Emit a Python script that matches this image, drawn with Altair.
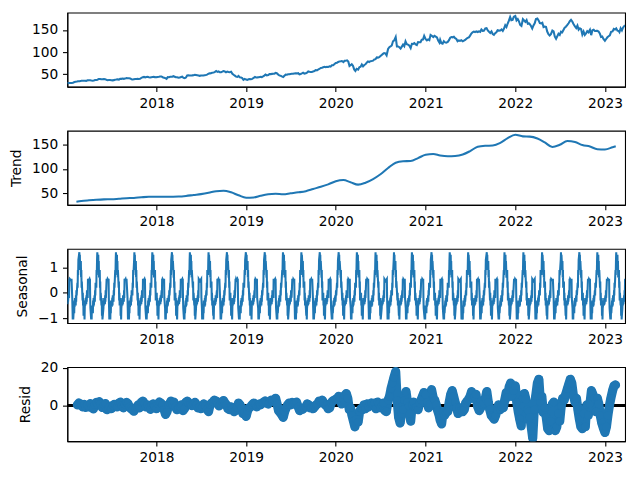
import altair as alt
import pandas as pd

BLUE = "#1f77b4"

# Observed close, read at days 1, 6, 11, 16, 21, 26 of every month Jan 2017 .. Mar 2023
# (one row per month), then the last day
OBS_VALUES = [
    29.0, 29.5, 29.8, 30.0, 30.0, 30.5,
    32.1, 32.7, 33.0, 33.7, 34.0, 34.2,
    35.0, 34.8, 34.8, 35.1, 34.6, 35.8,
    35.9, 35.9, 35.3, 35.0, 35.5, 36.6,
    36.6, 37.2, 38.9, 39.0, 38.3, 38.4,
    38.6, 38.5, 37.0, 36.2, 36.4, 36.4,
    36.0, 35.8, 36.3, 37.3, 37.6, 38.0,
    37.5, 39.2, 39.2, 40.0, 39.2, 39.8,
    41.0, 40.8, 40.6, 40.1, 38.5, 38.0,
    38.5, 38.9, 39.1, 39.4, 39.0, 39.2,
    41.7, 43.1, 43.6, 42.3, 43.4, 43.7,
    42.8, 42.4, 42.9, 43.3, 43.6, 42.7,
    43.1, 43.6, 43.9, 44.5, 44.6, 42.9,
    41.9, 40.8, 39.1, 43.0, 42.8, 44.0,
    43.8, 44.1, 45.2, 44.1, 42.9, 43.0,
    41.7, 42.1, 43.5, 44.2, 41.4, 40.9,
    42.3, 46.7, 47.2, 46.8, 46.9, 47.1,
    47.6, 48.3, 47.9, 47.3, 46.7, 46.0,
    46.8, 46.9, 46.9, 47.6, 47.9, 48.7,
    50.8, 51.7, 51.9, 53.2, 53.6, 54.4,
    57.0, 55.0, 56.3, 54.2, 54.2, 55.5,
    57.0, 56.1, 54.0, 55.7, 54.6, 54.1,
    55.5, 50.9, 48.5, 46.5, 44.2, 43.6,
    46.0, 42.7, 42.4, 41.0, 37.2, 39.1,
    37.5, 36.9, 38.1, 38.9, 38.3, 39.1,
    41.6, 43.5, 42.4, 42.6, 42.9, 43.6,
    43.7, 43.2, 44.7, 46.5, 48.8, 47.0,
    47.8, 50.0, 49.9, 50.5, 51.0, 51.1,
    52.6, 52.0, 49.3, 47.0, 46.4, 44.7,
    43.5, 46.3, 48.7, 48.5, 49.7, 49.5,
    50.4, 50.8, 50.8, 51.6, 51.8, 51.6,
    52.1, 49.3, 50.2, 51.6, 53.2, 51.0,
    51.8, 53.5, 55.9, 55.2, 54.9, 54.7,
    56.1, 56.8, 59.1, 58.6, 60.1, 61.6,
    63.9, 64.3, 65.6, 66.4, 65.5, 66.4,
    66.0, 67.7, 67.0, 69.9, 69.9, 72.5,
    75.1, 75.8, 77.6, 78.8, 79.1, 79.7,
    77.4, 80.4, 80.5, 81.2, 78.3, 68.4,
    70.0, 72.3, 68.9, 60.6, 57.0, 61.9,
    60.2, 65.6, 66.9, 71.7, 67.5, 70.7,
    72.3, 75.9, 78.8, 77.4, 79.2, 79.6,
    80.5, 83.4, 83.9, 87.9, 87.4, 88.4,
    91.0, 93.5, 95.9, 97.7, 97.0, 92.6,
    107.0, 111.1, 112.7, 115.0, 124.4, 126.5,
    134.2, 112.8, 112.8, 111.0, 108.0, 112.3,
    116.8, 113.2, 124.4, 118.0, 116.9, 115.1,
    109.0, 118.7, 118.5, 120.3, 117.3, 116.0,
    122.7, 122.3, 122.4, 127.9, 128.2, 136.7,
    129.4, 126.6, 128.8, 127.1, 139.0, 137.1,
    134.1, 136.8, 135.1, 133.2, 126.0, 121.3,
    127.8, 120.1, 119.0, 124.8, 122.0, 121.2,
    123.0, 127.0, 132.5, 134.2, 133.5, 134.7,
    131.5, 129.7, 124.5, 126.3, 125.4, 126.9,
    124.3, 125.9, 127.4, 130.2, 132.3, 133.4,
    137.3, 142.0, 145.0, 146.4, 145.4, 146.8,
    145.5, 147.1, 145.9, 151.1, 148.2, 148.4,
    153.5, 154.3, 149.0, 146.1, 143.4, 146.9,
    141.0, 139.1, 142.8, 144.8, 149.5, 148.7,
    149.0, 151.3, 148.0, 153.5, 161.0, 156.8,
    164.8, 171.2, 179.5, 172.3, 173.0, 180.3,
    182.0, 172.0, 175.1, 169.8, 161.5, 159.2,
    174.6, 171.7, 168.6, 172.6, 164.3, 164.9,
    163.2, 159.3, 153.5, 160.6, 165.4, 174.7,
    176.0, 171.8, 165.8, 165.1, 166.4, 156.8,
    158.0, 157.3, 146.5, 140.8, 137.6, 140.5,
    148.7, 147.0, 135.0, 130.1, 135.9, 141.7,
    138.9, 146.4, 144.9, 150.2, 155.4, 157.4,
    161.5, 165.4, 170.0, 173.0, 169.5, 163.6,
    158.0, 154.5, 160.0, 150.7, 153.7, 151.8,
    139.5, 146.4, 139.0, 142.4, 147.3, 144.8,
    150.7, 138.4, 149.7, 150.7, 148.0, 148.1,
    148.3, 146.6, 142.2, 134.5, 135.5, 130.0,
    125.5, 129.6, 133.5, 135.9, 137.9, 145.9,
    147.0, 152.6, 151.0, 153.7, 148.5, 147.9,
    145.3, 153.8, 149.0, 155.9, 159.3,
    160.3,
]

# Trend, read at 2017-02-09, the 1st of each month Mar 2017 .. Feb 2023, and 2023-02-14
TREND_VALUES = [
    32.0,
    33.5, 35.0, 36.2, 37.0, 37.2, 38.2, 39.3, 40.0, 41.3, 42.3,
    42.5, 42.3, 42.5, 42.8, 44.0, 46.0, 47.8, 50.5, 54.0, 55.0, 51.5, 45.5,
    40.5, 41.0, 44.5, 47.5, 48.5, 47.5, 49.5, 51.5, 54.0, 58.5, 63.0, 68.0,
    74.5, 77.0, 72.5, 67.5, 71.5, 79.0, 89.0, 102.0, 113.0, 116.0, 116.5, 122.5,
    129.5, 131.0, 128.0, 126.5, 127.0, 130.0, 137.0, 146.0, 148.0, 148.5, 154.0, 164.0,
    171.0, 167.5, 167.0, 163.0, 155.0, 145.5, 150.0, 158.0, 156.0, 149.5, 146.5, 141.0,
    140.5, 145.0,
    147.0,
]

# One 52-trading-day cycle of the seasonal component, from the first trading day on
SEASONAL_CYCLE = [
    -0.20, -0.45, -0.10, -0.35, 0.10, -0.20, 0.55, 0.50, 0.55, 0.50, 0.55, 0.50, 0.55,
    -0.20, -0.60, -1.05, -0.70, -1.05, -0.50, -0.80, -0.30, -0.55, -0.20, -0.50, -0.10,
    -0.35, 0.10, -0.10, 0.40, 0.20, 0.90, 0.70, 1.30,
    1.60, 1.20, 1.50, 0.90, 1.25, 0.60, 0.90, 0.20, 0.45, -0.30, 0.00, -0.50, -0.20,
    -0.90, -0.40, -1.05, -0.60, -0.30, -0.50,
]

# Residuals, five readings per month (days 1, 7, 13, 19, 25), Feb 2017 .. Feb 2023
RESID_ROWS = [
    [None, None, 0.5, 1.5, 1.0], [0.5, -0.5, 0.8, -0.8, 0.2], [-0.5, 1.2, -1.0, -1.6, 0.5],
    [1.8, 0.5, 2.2, 1.0, -0.8], [0.6, 1.2, -2.0, -1.2, -0.5], [-1.5, 0.2, 0.8, 0.5, -0.5],
    [1.5, 2.0, 0.2, -1.0, 0.8], [1.8, 1.2, -0.5, -1.5, -2.0], [-2.8, -1.5, -0.5, 0.5, -1.0],
    [2.0, 2.5, 1.2, -0.5, 0.5], [-0.8, -1.8, 0.5, 1.0, -0.2],
    [-1.5, 1.0, 2.0, 1.5, 0.5], [-2.0, -4.5, -3.0, 0.5, 1.5], [2.5, 1.0, 2.0, -0.5, -2.0],
    [-1.0, -0.5, 0.5, -2.5, -1.5], [2.0, 2.5, 1.0, 0.8, 0.2], [1.0, 1.8, 0.5, -1.0, -0.5],
    [-1.5, -0.5, 1.0, -0.2, -1.8], [-3.0, 0.5, 1.5, 2.0, 3.0], [2.5, 1.0, 0.0, 1.0, 2.0],
    [2.8, 1.5, 0.5, -1.5, -2.0], [-0.5, -1.5, -3.0, -2.5, -1.0], [1.5, 0.5, -1.0, -4.0, -3.5],
    [-5.5, -2.5, -1.0, -0.5, 0.5], [1.5, 0.8, -0.5, 0.5, 1.0], [0.5, 1.5, 2.0, 2.5, 1.5],
    [1.0, 2.0, 3.0, 2.5, 3.2], [4.0, 1.0, -2.5, -3.5, -4.5], [-6.0, -3.0, -1.0, 0.5, 1.5],
    [0.5, 1.8, 1.0, 1.5, 2.0], [-0.5, -2.5, -1.5, -1.8, -1.0], [-0.5, 1.0, 0.5, -1.0, -0.8],
    [-1.5, -0.5, 0.5, 1.0, 2.5], [2.5, 3.0, 1.5, 0.5, 0.0], [-1.5, -1.0, 1.5, 2.5, 3.0],
    [3.5, 4.0, 5.0, 4.0, 1.0], [3.5, 5.5, 6.5, 4.0, -2.0], [-1.0, -5.0, -8.0, -11.0, -7.0],
    [-8.5, -3.0, -1.5, -2.0, 0.5], [-1.5, 1.0, -0.5, 1.0, 1.5], [0.5, 1.5, -1.5, 2.0, 1.0],
    [-1.0, 0.5, 1.5, -2.5, -3.0], [3.0, 5.0, 9.0, 12.0, 15.0], [18.0, 3.0, -6.0, -9.0, -4.0],
    [-2.0, 3.0, 7.5, 2.0, 0.0], [-8.0, 0.5, 2.0, -1.0, -0.5], [-2.0, 1.5, 3.0, 5.0, 7.0],
    [6.0, 2.0, -1.0, 1.0, 8.5], [4.0, 3.0, 0.5, -2.5, -5.0], [-7.5, -9.5, -3.0, -5.0, -3.5],
    [-3.0, 2.0, 6.0, 8.0, 5.0], [2.0, -1.0, -4.0, -1.0, -2.5], [-3.0, -2.0, 1.5, 2.5, 3.5],
    [5.0, 7.5, 4.0, 5.0, 6.0], [-0.5, -2.5, -1.0, 0.5, 1.5], [4.0, 7.5, 2.0, -2.0, -5.0],
    [-6.0, -7.0, -5.0, -2.0, 0.5], [-2.0, -0.5, -1.0, 3.0, 7.0], [4.5, 10.0, 12.0, 5.0, 8.0],
    [10.5, 2.0, -3.0, -7.0, -10.5], [4.0, 6.5, 3.5, -2.0, -3.0], [-6.0, -11.0, -17.0, -2.0, 5.0],
    [12.0, 14.0, 2.0, 5.0, -3.5], [-1.0, -6.0, -12.0, -13.0, -8.0], [1.0, 2.0, -13.0, -11.0, -4.0],
    [-8.0, 0.0, 4.0, 3.0, 6.0], [9.0, 11.5, 14.0, 12.0, 6.0], [2.0, 4.0, -2.0, -7.0, -11.0],
    [-12.0, -4.0, -11.0, 0.5, -5.0], [1.0, 8.0, 6.0, 4.0, -3.0], [4.0, 1.0, -5.0, -9.0, -11.5],
    [-14.0, -11.0, -5.0, 0.0, 4.0], [8.0, 10.5, 11.0, None, None],
]

NYSE_HOLIDAYS = [
    "2017-01-02", "2017-01-16", "2017-02-20", "2017-04-14", "2017-05-29", "2017-07-04",
    "2017-09-04", "2017-11-23", "2017-12-25",
    "2018-01-01", "2018-01-15", "2018-02-19", "2018-03-30", "2018-05-28", "2018-07-04",
    "2018-09-03", "2018-11-22", "2018-12-05", "2018-12-25",
    "2019-01-01", "2019-01-21", "2019-02-18", "2019-04-19", "2019-05-27", "2019-07-04",
    "2019-09-02", "2019-11-28", "2019-12-25",
    "2020-01-01", "2020-01-20", "2020-02-17", "2020-04-10", "2020-05-25", "2020-07-03",
    "2020-09-07", "2020-11-26", "2020-12-25",
    "2021-01-01", "2021-01-18", "2021-02-15", "2021-04-02", "2021-05-31", "2021-07-05",
    "2021-09-06", "2021-11-25", "2021-12-24",
    "2022-01-17", "2022-02-21", "2022-04-15", "2022-05-30", "2022-06-20", "2022-07-04",
    "2022-09-05", "2022-11-24", "2022-12-26",
    "2023-01-02", "2023-01-16", "2023-02-20",
]

YEAR_TICKS = [2018, 2019, 2020, 2021, 2022, 2023]
START, END = "2017-01-03", "2023-03-24"


def ms(s):
    return int(pd.Timestamp(s).value // 1_000_000)


def fmt(d):
    return pd.Timestamp(d).strftime("%Y-%m-%d")


# observed
months = pd.date_range("2017-01-01", "2023-03-01", freq="MS")
obs_dates = [m + pd.Timedelta(days=k) for m in months for k in (0, 5, 10, 15, 20, 25)]
obs_dates = [d for d in obs_dates if d < pd.Timestamp(END)]
obs_dates[0] = pd.Timestamp(START)
obs_dates.append(pd.Timestamp(END))
assert len(obs_dates) == len(OBS_VALUES)
obs_df = pd.DataFrame({"date": [fmt(d) for d in obs_dates], "value": OBS_VALUES})

# trend
trend_dates = ([pd.Timestamp("2017-02-09")]
               + list(pd.date_range("2017-03-01", "2023-02-01", freq="MS"))
               + [pd.Timestamp("2023-02-14")])
trend_df = pd.DataFrame({"date": [fmt(d) for d in trend_dates], "value": TREND_VALUES})

# seasonal on trading days
tdays = pd.bdate_range(START, END, freq="C", holidays=NYSE_HOLIDAYS)
seas_df = pd.DataFrame({
    "date": [fmt(d) for d in tdays],
    "value": [SEASONAL_CYCLE[i % len(SEASONAL_CYCLE)] for i in range(len(tdays))],
})

# residuals
rmonths = pd.date_range("2017-02-01", "2023-02-01", freq="MS")
rrows = []
for m, vals in zip(rmonths, RESID_ROWS):
    for k, v in zip((0, 6, 12, 18, 24), vals):
        if v is not None:
            rrows.append({"date": fmt(m + pd.Timedelta(days=k)), "value": v})
resid_df = pd.DataFrame(rrows)
# band of the densely overlapping markers: spread of neighbouring readings
resid_df["lo"] = resid_df["value"].rolling(3, center=True, min_periods=1).min()
resid_df["hi"] = resid_df["value"].rolling(3, center=True, min_periods=1).max()

W, H = 564, 75
x_scale = alt.Scale(type="utc", domain=[ms(START), ms(END)], nice=False)
x_axis = alt.Axis(values=[ms(f"{y}-01-01") for y in YEAR_TICKS], format="%Y",
                  title=None, grid=False)


def X():
    return alt.X("date:T", scale=x_scale, axis=x_axis)


def Y(domain, ticks, title=None, field="value"):
    return alt.Y(f"{field}:Q", scale=alt.Scale(domain=domain, nice=False, zero=False),
                 axis=alt.Axis(values=ticks, grid=False, title=title if title else None))


p1 = alt.Chart(obs_df).mark_line(color=BLUE, strokeWidth=2.08, clip=True).encode(
    x=X(), y=Y([21.35, 189.66], [50, 100, 150])
).properties(width=W, height=H)

p2 = alt.Chart(trend_df).mark_line(color=BLUE, strokeWidth=2.08, clip=True,
                                   interpolate="monotone").encode(
    x=X(), y=Y([25.5, 179.2], [50, 100, 150], "Trend")
).properties(width=W, height=H)

p3 = alt.Chart(seas_df).mark_line(color=BLUE, strokeWidth=2.08, clip=True).encode(
    x=X(), y=Y([-1.19, 1.73], [-1, 0, 1], "Seasonal")
).properties(width=W, height=H)

RESID_DOMAIN = [-18.6, 20.4]
zero = alt.Chart(resid_df).mark_rule(color="black", strokeWidth=2.08).encode(
    y=alt.datum(0)
)
fill = alt.Chart(resid_df).mark_area(color=BLUE, opacity=1, clip=True).encode(
    x=X(), y=Y(RESID_DOMAIN, [0, 20], "Resid", field="lo"), y2="hi:Q"
)
band = alt.Chart(resid_df).mark_line(color=BLUE, strokeWidth=9.3, strokeCap="round",
                                     strokeJoin="round", clip=True).encode(
    x=X(), y=Y(RESID_DOMAIN, [0, 20], "Resid")
)
pts = alt.Chart(resid_df).mark_circle(color=BLUE, size=70, opacity=1, clip=True).encode(
    x=X(), y=Y(RESID_DOMAIN, [0, 20], "Resid")
)
p4 = alt.layer(zero, fill, band, pts).properties(width=W, height=H)

chart = alt.vconcat(p1, p2, p3, p4, spacing=44.5, bounds="flush").properties(
    padding={"left": 1, "top": 1, "right": 5, "bottom": 5}
).configure_axis(
    labelFont="DejaVu Sans", labelFontSize=13.9, labelColor="black",
    titleFont="DejaVu Sans", titleFontSize=13.9, titleFontWeight="normal", titleColor="black",
    tickColor="black", tickSize=4.9, tickWidth=1.1, domainColor="black", domainWidth=1.1,
    labelPadding=4.9, titlePadding=8,
).configure_view(stroke="black", strokeWidth=1.1)

chart.save("out.html", embed_options={"renderer": "svg", "actions": False})
